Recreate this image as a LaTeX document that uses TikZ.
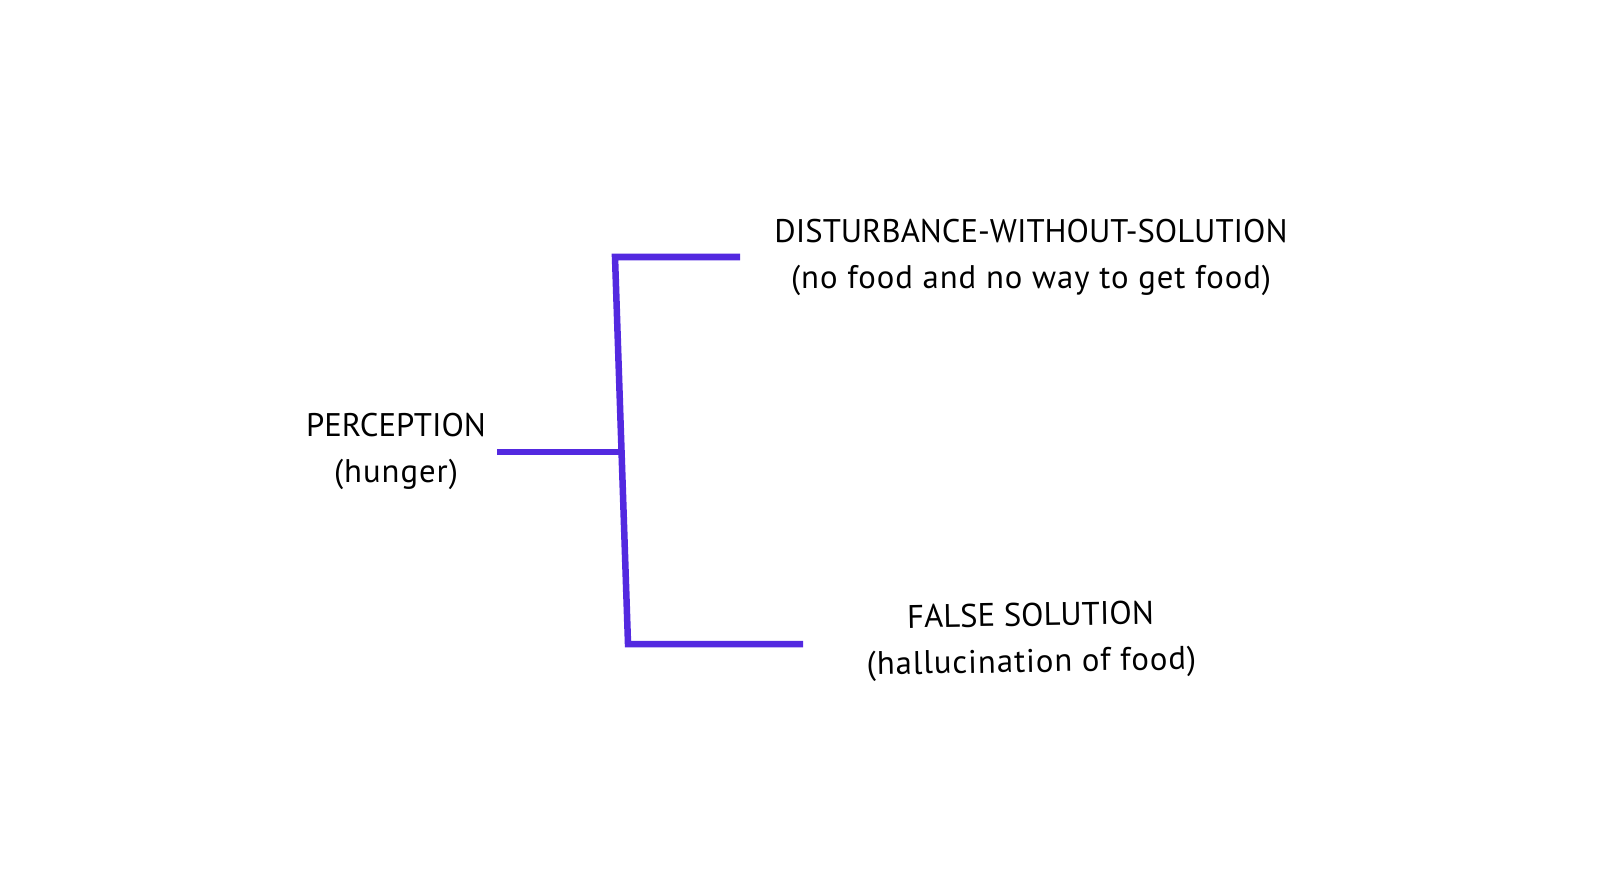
\documentclass[tikz,border=0pt]{standalone}
\usepackage{fontspec}
\setmainfont{PT Sans}
\usetikzlibrary{positioning,calc}
\definecolor{bracketblue}{HTML}{5329E0}
\newcommand{\wider}[1]{{\addfontfeature{LetterSpace=3}#1}}

\begin{document}
\begin{tikzpicture}[
        x=0.01cm, y=-0.01cm,
        label/.style={align=center, font=\fontsize{9.3}{13.1}\selectfont, inner sep=0pt},
        bracket/.style={line width=1.85pt, draw=bracketblue, line join=miter}
    ]
    \useasboundingbox (0,0) rectangle (1600,894);

    \node[label] (perception) at (396,451) {PERCEPTION\\\wider{(hunger)}};
    \node[label] (disturbance) at (1031,257) {DISTURBANCE-WITHOUT-SOLUTION\\\wider{(no food and no way to get food)}};
    \node[label, rotate=1] (falsesol) at (1031,641) {FALSE SOLUTION\\\wider{(hallucination of food)}};

    \coordinate (topcorner) at (615,257);
    \coordinate (botcorner) at (628,644);
    \coordinate (topend) at (740,257);
    \coordinate (botend) at (803,644);
    \coordinate (split) at (621.5,452);
    \coordinate (start) at (497,452);

    \draw[bracket] (topend) -- (topcorner) -- (botcorner) -- (botend);
    \draw[bracket] (start) -- (split);

\end{tikzpicture}
\end{document}
